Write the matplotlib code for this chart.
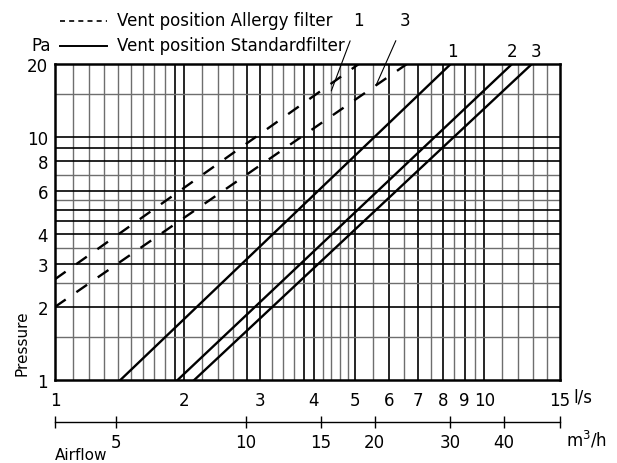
import matplotlib.pyplot as plt

# pressure drop curves (l/s, Pa)
std_pa = [1, 20]
std1_flow = [1.42, 8.35]
std2_flow = [1.93, 11.6]
std3_flow = [2.11, 12.9]
alg_flow = [1, 5.1]
alg1_pa = [2.6, 20]
alg3_flow = [1, 6.6]
alg3_pa = [2.0, 20]

x_ticks = [1, 2, 3, 4, 5, 6, 7, 8, 9, 10, 15]
x_labels = ['1', '2', '3', '4', '5', '6', '7', '8', '9', '10', '15']
y_ticks = [1, 2, 3, 4, 6, 8, 10, 20]
m3h_ticks = [3.6, 5, 10, 15, 20, 30, 40, 54]
m3h_labels = ['', '5', '10', '15', '20', '30', '40', '']

x_grid_dark = [1.9, 2, 2.8, 3, 3.8, 4, 5, 6, 7, 8, 9, 10]
x_grid_light = [1.1, 1.2, 1.3, 1.4, 1.5, 1.6, 1.7, 1.8, 2.2, 2.4, 2.6,
                3.2, 3.4, 3.6, 4.2, 4.4, 4.6, 4.8, 5.5, 6.5, 7.5, 8.5, 9.5,
                11, 12, 13, 14]
y_grid_dark = [2, 3, 4, 4.5, 5, 6, 8, 9, 10]
y_grid_light = [1.5, 2.5, 3.5, 5.5, 7, 15]

W, H = 617, 464
plt.rcParams['font.family'] = ['DejaVu Sans']
plt.rcParams['font.size'] = 12

fig = plt.figure(figsize=(W / 100, H / 100), dpi=100)
ax = fig.add_axes([55 / W, 1 - 381 / H, 505 / W, 316 / H])
ax.set_xscale('log')
ax.set_yscale('log')
ax.set_xlim(1, 15)
ax.set_ylim(1, 20)

for x in x_grid_light:
    ax.axvline(x, color='#6e6e6e', lw=1.0, zorder=1)
for x in x_grid_dark:
    ax.axvline(x, color='black', lw=1.2, zorder=1)
for y in y_grid_light:
    ax.axhline(y, color='#6e6e6e', lw=1.0, zorder=1)
for y in y_grid_dark:
    ax.axhline(y, color='black', lw=1.2, zorder=1)

ax.plot(std1_flow, std_pa, color='black', lw=1.7, zorder=3)
ax.plot(std2_flow, std_pa, color='black', lw=1.7, zorder=3)
ax.plot(std3_flow, std_pa, color='black', lw=1.7, zorder=3)
ax.plot(alg_flow, alg1_pa, color='black', lw=1.7, ls=(0, (5.5, 5.5)), zorder=3)
ax.plot(alg3_flow, alg3_pa, color='black', lw=1.7, ls=(0, (5.5, 5.5)), zorder=3)

ax.set_xticks(x_ticks)
ax.set_xticklabels(x_labels)
ax.set_yticks(y_ticks)
ax.set_yticklabels([str(v) for v in y_ticks])
ax.minorticks_off()
ax.tick_params(axis='x', length=0, pad=8, labelsize=12)
ax.tick_params(axis='y', length=0, pad=5, labelsize=12)
for s in ax.spines.values():
    s.set_linewidth(1.8)

# second flow scale in m3/h
sec = ax.secondary_xaxis(-0.132, functions=(lambda q: q * 3.6, lambda q: q / 3.6))
sec.set_xticks(m3h_ticks)
sec.set_xticklabels(m3h_labels)
sec.minorticks_off()
sec.tick_params(direction='inout', length=8, width=1, pad=4, labelsize=12)
sec.spines['bottom'].set_linewidth(1)

# curve labels
ax.annotate('1', xy=(std1_flow[1], 20), xytext=(2, 13), textcoords='offset pixels',
            ha='center', va='center', fontsize=12)
ax.annotate('2', xy=(std2_flow[1], 20), xytext=(0, 13), textcoords='offset pixels',
            ha='center', va='center', fontsize=12)
ax.annotate('3', xy=(std3_flow[1], 20), xytext=(4, 13), textcoords='offset pixels',
            ha='center', va='center', fontsize=12)
ax.annotate('1', xy=(4.4, 15.5), xytext=(358 / W, 1 - 21 / H), textcoords='figure fraction',
            ha='center', va='center', fontsize=12,
            arrowprops=dict(arrowstyle='-', lw=0.8, color='black', shrinkA=7, shrinkB=0))
ax.annotate('3', xy=(5.59, 16.3), xytext=(405 / W, 1 - 21 / H), textcoords='figure fraction',
            ha='center', va='center', fontsize=12,
            arrowprops=dict(arrowstyle='-', lw=0.8, color='black', shrinkA=7, shrinkB=0))

# legend and axis titles
fig.add_artist(plt.Line2D([60 / W, 107 / W], [1 - 22 / H, 1 - 22 / H], color='black',
                          lw=1.2, ls=(0, (3, 2.5))))
fig.add_artist(plt.Line2D([60 / W, 107 / W], [1 - 47 / H, 1 - 47 / H], color='black', lw=1.4))
fig.text(117 / W, 1 - 21 / H, 'Vent position Allergy filter', va='center', fontsize=12)
fig.text(117 / W, 1 - 46 / H, 'Vent position Standardfilter', va='center', fontsize=12)
fig.text(51 / W, 1 - 46 / H, 'Pa', ha='right', va='center', fontsize=12)
fig.text(22 / W, 1 - 343 / H, 'Pressure', rotation=90, ha='center', va='center', fontsize=11)
fig.text(573 / W, 1 - 398 / H, 'l/s', va='center', fontsize=12)
fig.text(566 / W, 1 - 440 / H, 'm$^3$/h', va='center', fontsize=12)
fig.text(55 / W, 1 - 456 / H, 'Airflow', va='center', fontsize=11)

fig.savefig('out.png', dpi=100)
